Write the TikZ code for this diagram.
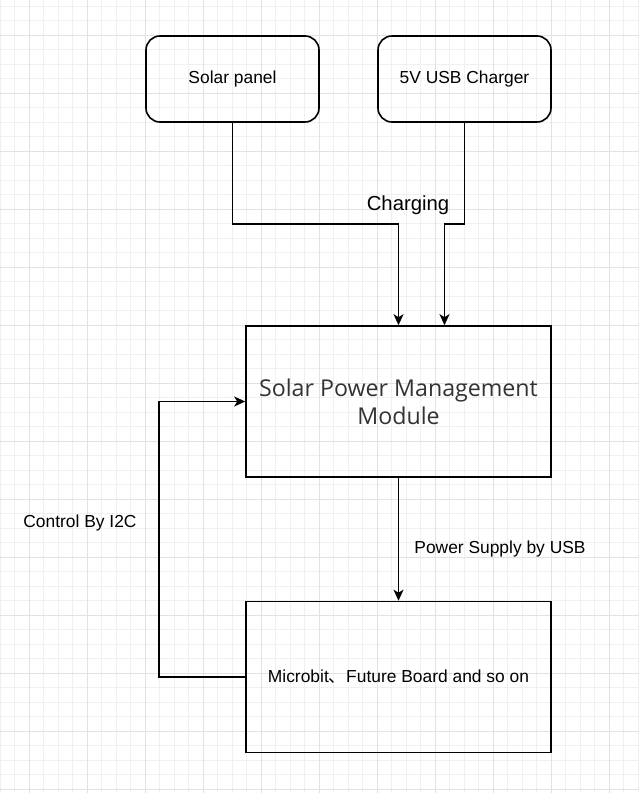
\documentclass[tikz,border=0pt]{standalone}
\usepackage{fontspec}
\setmainfont{Liberation Sans}
\newfontfamily\spmfont{Open Sans}
\newfontfamily\cjk{Noto Sans CJK SC}
\usetikzlibrary{arrows.meta}

\definecolor{gridminor}{HTML}{F0F0F0}
\definecolor{gridmajor}{HTML}{E2E2E2}
\definecolor{spmtext}{HTML}{333333}

\begin{document}
\begin{tikzpicture}[x=1pt,y=-1pt,
    block/.style={draw,line width=1.6pt,minimum width=173pt,minimum height=86pt,
        align=center,font={\fontsize{17.4}{20.9}\selectfont}},
    softblock/.style={block,rounded corners=14pt},
    bigblock/.style={block,minimum width=305pt,minimum height=151pt},
    link/.style={draw,line width=1.6pt,-{Stealth[length=11pt,width=10pt,inset=3pt]}},
    lbl/.style={font={\fontsize{17.4}{20.9}\selectfont}}]

    \useasboundingbox (0,0) rectangle (639,793);
    \fill[white] (0,0) rectangle (639,793);
    \foreach \gx in {0,14.5,...,639} \draw[gridminor,line width=1pt] (\gx,0) -- (\gx,793);
    \foreach \gy in {6,20.5,...,793} \draw[gridminor,line width=1pt] (0,\gy) -- (639,\gy);
    \foreach \gx in {29,87,...,639} \draw[gridmajor,line width=1pt] (\gx,0) -- (\gx,793);
    \foreach \gy in {35,93,...,793} \draw[gridmajor,line width=1pt] (0,\gy) -- (639,\gy);

    \node[softblock] (solar) at (232.5,79) {\raisebox{-2pt}{Solar panel}};
    \node[softblock] (usb) at (464.5,79) {\raisebox{-2pt}{5V USB Charger}};
    \node[bigblock,font={\spmfont\fontsize{23.2}{28}\selectfont},text=spmtext] (spm) at (398.5,401.5)
        {Solar Power Management\\Module};
    \node[bigblock] (mcu) at (398.5,677) {\raisebox{-1pt}{Microbit{\cjk 、}Future Board and so on}};

    \draw[link] (solar.south) -- ++(0,101) -| (spm.north);
    \draw[link] (usb.south) -- ++(0,101) -| ([xshift=46pt]spm.north);
    \draw[link] (spm.south) -- (mcu.north);
    \draw[link] (mcu.west) -- ++(-86,0) |- (spm.west);

    \node[lbl,font={\fontsize{20.3}{24}\selectfont}] (charging) at (408,205) {Charging};
    \node[lbl] (usbpower) at (500,549) {Power Supply by USB};
    \node[lbl] (i2c) at (80,523) {Control By I2C};

\end{tikzpicture}
\end{document}
